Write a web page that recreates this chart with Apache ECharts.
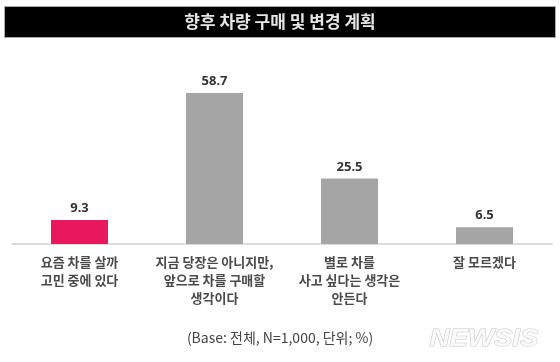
<!DOCTYPE html>
<html><head><meta charset="utf-8">
<script src="https://cdn.jsdelivr.net/npm/echarts@6/dist/echarts.min.js"></script>
<style>html,body{margin:0;padding:0;background:#fff}#c{width:560px;height:362px}</style>
</head><body><div id="c"></div>
<script>
const titleText = '향후 차량 구매 및 변경 계획';
const categories = ['요즘 차를 살까\n고민 중에 있다', '지금 당장은 아니지만,\n앞으로 차를 구매할\n생각이다', '별로 차를\n사고 싶다는 생각은\n안든다', '잘 모르겠다'];
const values = [9.3, 58.7, 25.5, 6.5];
const barColors = ['#e8175e', '#a5a5a5', '#a5a5a5', '#a5a5a5'];
const footnote = '(Base: 전체, N=1,000, 단위; %)';
const watermark = 'NEWSIS';

const chart = echarts.init(document.getElementById('c'), null, {renderer: 'canvas'});
chart.setOption({
  animation: false,
  backgroundColor: '#fff',
  grid: {left: 12, right: 8, top: 64, bottom: 118},
  xAxis: {
    type: 'category', data: categories,
    axisLine: {lineStyle: {color: '#dcdcdc', width: 2}},
    axisTick: {show: false},
    axisLabel: {interval: 0, hideOverlap: false, margin: 9, fontSize: 13, lineHeight: 18, color: '#4a4a4a', fontFamily: 'Noto Sans CJK KR', fontWeight: 'bold'}
  },
  yAxis: {type: 'value', min: 0, max: 70, show: false, splitLine: {show: false}},
  series: [{
    type: 'bar', barWidth: 57,
    data: values.map((v, i) => ({value: v, itemStyle: {color: barColors[i]}})),
    label: {show: true, position: 'top', distance: 5, fontSize: 13, fontWeight: 'bold', color: '#333', fontFamily: 'Noto Sans'}
  }],
  graphic: [
    {type: 'rect', shape: {x: 4.5, y: 6.5, width: 551, height: 31}, style: {fill: '#000', stroke: '#aaa', lineWidth: 1}},
    {type: 'text', x: 280, y: 22, style: {text: titleText, fill: '#e6e6e6', font: 'bold 17px "Noto Sans CJK KR"', align: 'center', verticalAlign: 'middle'}},
    {type: 'text', x: 280, y: 338, style: {text: footnote, fill: '#444', font: '14px "Noto Sans CJK KR"', align: 'center', verticalAlign: 'middle'}},
    {type: 'text', x: 484, y: 339, scaleX: 1.15, style: {text: watermark, fill: '#f9f9f9', stroke: '#c8c8c8', lineWidth: 1, font: 'italic bold 24px "Liberation Sans"', align: 'center', verticalAlign: 'middle', shadowColor: 'rgba(0,0,0,0.6)', shadowBlur: 4}}
  ]
});
</script></body></html>
